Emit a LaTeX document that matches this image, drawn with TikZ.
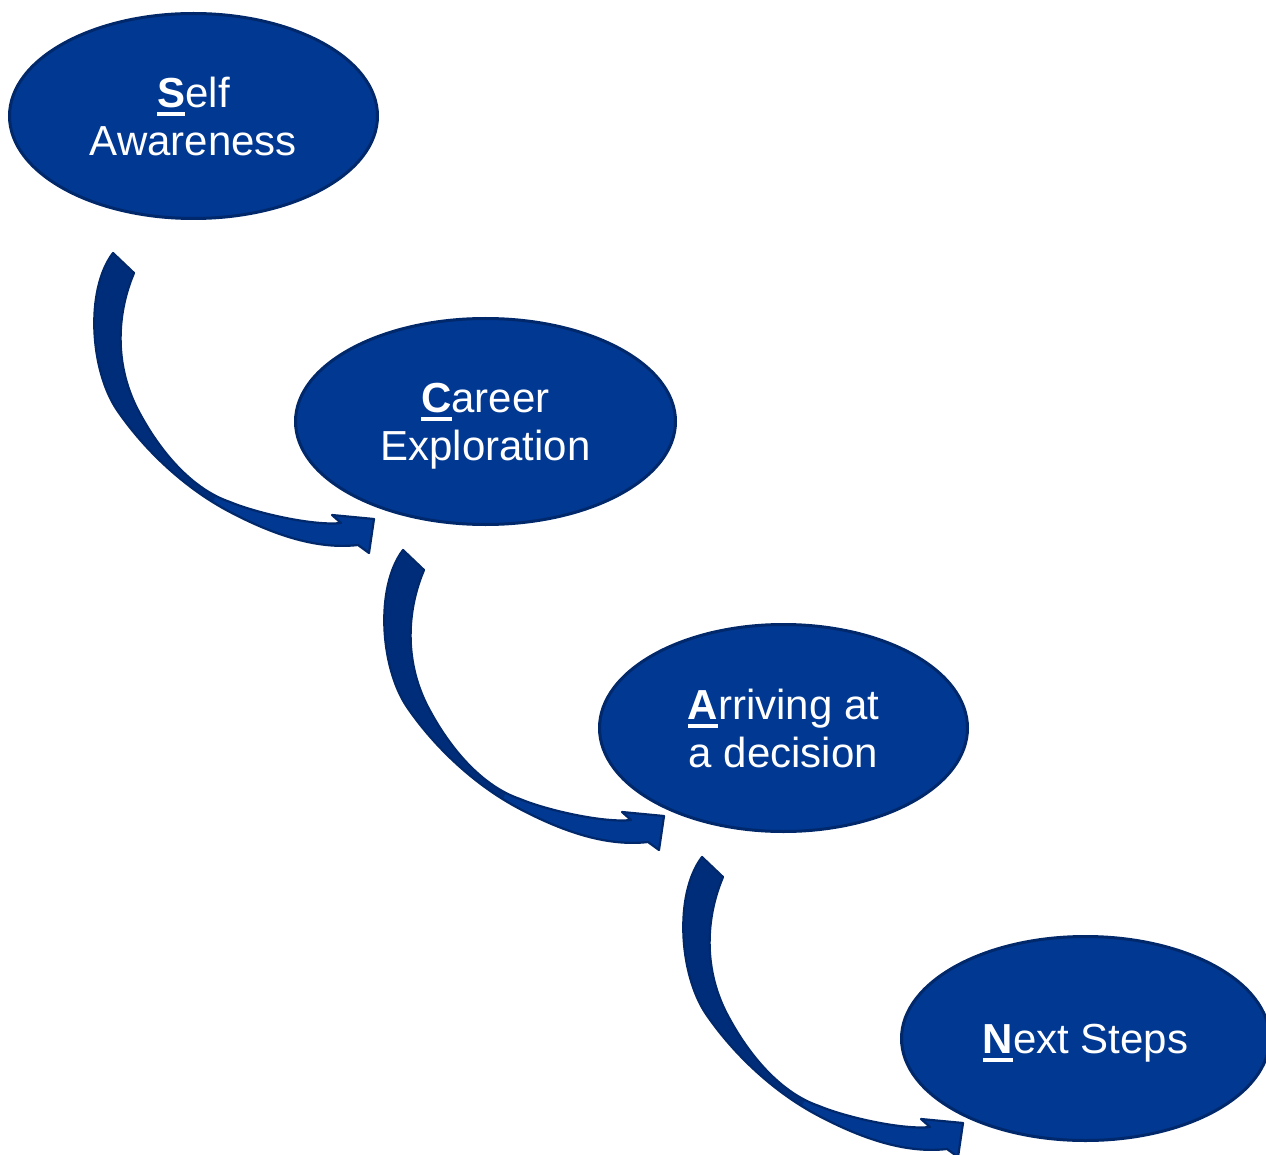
\documentclass[tikz,border=0pt]{standalone}
\usepackage{fontspec}
\setmainfont{Liberation Sans}
\usetikzlibrary{shapes.geometric}

\definecolor{stepfill}{RGB}{0,56,146}
\definecolor{stepline}{RGB}{0,40,107}
\definecolor{backface}{RGB}{0,45,122}

% bold, underlined first letter of each stage
\newcommand\firstcap[1]{\setbox0\hbox{\bfseries #1}\rlap{\rule[-8.5pt]{\wd0}{4pt}}\box0}

\tikzset{
  stage/.style={ellipse, draw=stepline, fill=stepfill, line width=3pt,
    inner sep=0pt, text=white, align=center, text depth=0pt,
    font=\fontsize{42}{48}\selectfont},
  arrowbody/.style={insert path={
      (113,253) .. controls (85,290) and (90,370) .. (117,410)
      .. controls (145,451) and (186,489) .. (230,512)
      .. controls (270,533) and (315,550) .. (358,545)
      -- (369,553) -- (374,519) -- (332,515) -- (341,523)
      .. controls (315,526) and (259,514) .. (230,502)
      .. controls (192,489) and (160,452) .. (138,410)
      .. controls (114,364) and (117,313) .. (134,273) -- cycle}},
  flowarrow/.pic={
    % whole arrow, front face colour
    \fill[stepfill, arrowbody];
    % the part before the twist shows the back face
    \begin{scope}
      \clip (0,200) -- (290,200) -- (290,370) -- (165,583) -- (0,583) -- cycle;
      \fill[backface, arrowbody];
    \end{scope}
    % outline
    \draw[stepline, line width=2.2pt, line join=round, arrowbody];
  }
}

\begin{document}
\begin{tikzpicture}[x=1pt, y=-1pt]
  \path[use as bounding box] (0,0) rectangle (1266,1155);

  % curved arrows leading from one stage to the next
  \pic at (0,0) {flowarrow};
  \pic at (290,297) {flowarrow};
  \pic at (589,604) {flowarrow};

  % stages
  \node[stage, minimum width=368pt, minimum height=205pt] (self) at (193.5,116)
    {\firstcap{S}elf\\Awareness};
  \node[stage, minimum width=380pt, minimum height=206pt] (career) at (485.5,421.5)
    {\firstcap{C}areer\\Exploration};
  \node[stage, minimum width=368pt, minimum height=207pt] (arrive) at (783.5,728)
    {\firstcap{A}rriving at\\a decision};
  \node[stage, minimum width=368pt, minimum height=204pt] (next) at (1085.5,1038.5)
    {\firstcap{N}ext Steps};
\end{tikzpicture}
\end{document}
